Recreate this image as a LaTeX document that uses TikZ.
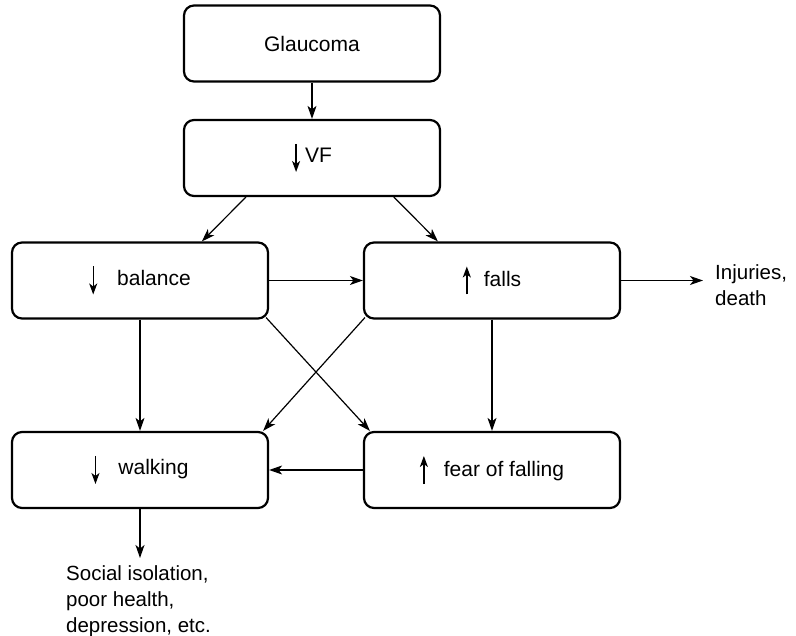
\documentclass[tikz,border=0pt]{standalone}
\usepackage{fontspec}
\setmainfont{Liberation Sans}
\usetikzlibrary{arrows.meta,calc}
\newcommand{\mydown}{\tikz[baseline=0pt]\draw[line width=1.4pt,-{Stealth[length=11pt,width=8pt,inset=3pt]}] (0pt,19pt)--(0pt,-9pt);}
\newcommand{\myup}{\tikz[baseline=0pt]\draw[line width=1.4pt,-{Stealth[length=11pt,width=8pt,inset=3pt]}] (0pt,-8pt)--(0pt,20pt);}
\tikzset{
  box/.style={draw, line width=2.2pt, rounded corners=10pt, minimum width=256pt, minimum height=76pt, inner sep=0pt, font=\fontsize{21}{26}\selectfont},
  conn/.style={line width=1.2pt, -{Stealth[length=13pt,width=9pt,inset=3.5pt]}},
  txt/.style={inner sep=0pt, align=left, font=\fontsize{20.5}{26}\selectfont}
}
\begin{document}
\begin{tikzpicture}[x=1pt,y=-1pt]
\useasboundingbox (0,0) rectangle (796,636);
\node[box] (glau) at (312,43.5) {Glaucoma};
\node[box] (vf) at (312,158) {\mydown\hspace{5pt}VF};
\node[box] (bal) at (140,280.5) {\mydown\hspace{20pt}balance};
\node[box] (falls) at (492,280.5) {\myup\hspace{13pt}falls};
\node[box] (walk) at (140,470) {\mydown\hspace{19pt}walking};
\node[box] (fear) at (492,470) {\myup\hspace{16pt}fear of falling};
\node[txt, anchor=north west] (injtxt) at (715,264) {Injuries,\\death};
\node[txt, anchor=north west] (soctxt) at (66,565) {Social isolation,\\poor health,\\depression, etc.};
\coordinate (inj) at (703,280.5);
\coordinate (soc) at (140,558);
\draw[conn] (glau) -- (vf);
\draw[conn] ([xshift=63pt]vf.south west) -- ([xshift=191pt]bal.north west);
\draw[conn] ([xshift=211pt]vf.south west) -- ([xshift=75pt]falls.north west);
\draw[conn] (bal) -- (falls);
\draw[conn] (falls.east) -- (inj);
\draw[conn] (bal) -- (walk);
\draw[conn] (falls) -- (fear);
\draw[conn] ([xshift=-3pt,yshift=2pt]bal.south east) -- ([xshift=7pt]fear.north west);
\draw[conn] ([xshift=2pt,yshift=2pt]falls.south west) -- ([xshift=-6pt]walk.north east);
\draw[conn] (fear) -- (walk);
\draw[conn] (walk) -- (soc);
\end{tikzpicture}
\end{document}
